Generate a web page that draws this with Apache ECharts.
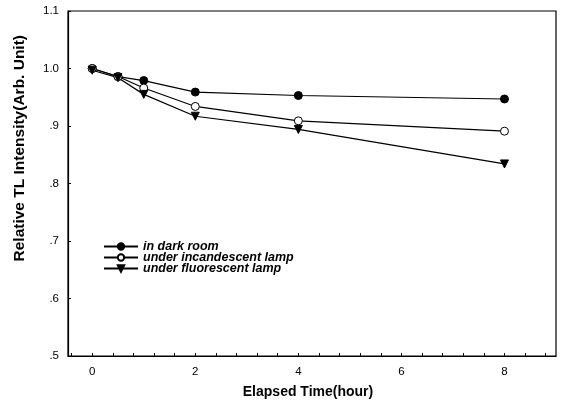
<!DOCTYPE html>
<html>
<head>
<meta charset="utf-8">
<script src="https://cdn.jsdelivr.net/npm/echarts@6/dist/echarts.min.js"></script>
<style>
html,body{margin:0;padding:0;background:#fff;}
#c{width:565px;height:415px;}
</style>
</head>
<body>
<div id="c"></div>
<script>
var hours = [0, 0.5, 1, 2, 4, 8];
var darkRoom = [1.0, 0.986, 0.979, 0.959, 0.953, 0.947];
var incandescent = [1.0, 0.986, 0.966, 0.934, 0.909, 0.891];
var fluorescent = [0.997, 0.984, 0.955, 0.917, 0.894, 0.834];
var seriesNames = ['in dark room', 'under incandescent lamp', 'under fluorescent lamp'];
var xTickLabels = [0, 2, 4, 6, 8];
var xMinorTicks = [-0.4, 0, 0.4, 0.8, 1.2, 1.6, 2, 2.4, 2.8, 3.2, 3.6, 4, 4.4, 4.8, 5.2, 5.6, 6, 6.4, 6.8, 7.2, 7.6, 8, 8.4, 8.8];
var yTickValues = [0.5, 0.6, 0.7, 0.8, 0.9, 1.0, 1.1];
var yTickLabels = ['.5', '.6', '.7', '.8', '.9', '1.0', '1.1'];

function pairs(ys) { return hours.map(function (h, i) { return [h, ys[i]]; }); }

var font = 'Liberation Sans, Arial, sans-serif';
var chart = echarts.init(document.getElementById('c'), null, {renderer: 'canvas'});
var common = {
  type: 'line', symbolSize: 8,
  lineStyle: {color: '#000', width: 1.2},
  itemStyle: {color: '#000', borderColor: '#000', borderWidth: 1},
  animation: false, z: 3
};
chart.setOption({
  animation: false,
  backgroundColor: '#fff',
  grid: {left: 68, right: 9, top: 11, bottom: 59, show: true, borderColor: '#000', borderWidth: 1.2, containLabel: false},
  legend: {
    left: 103, top: 240, orient: 'vertical', padding: 0, itemGap: -2, itemWidth: 34, itemHeight: 8,
    textStyle: {fontFamily: font, fontSize: 12.5, lineHeight: 11.5, fontWeight: 'bold', fontStyle: 'italic', color: '#000'},
    data: seriesNames
  },
  xAxis: {
    type: 'value', min: -0.47, max: 9.0,
    name: 'Elapsed Time(hour)', nameLocation: 'middle', nameGap: 29,
    nameTextStyle: {fontFamily: font, fontSize: 14, fontWeight: 'bold', color: '#000', padding: [0, 8, 0, 0]},
    axisLine: {show: true, onZero: false, lineStyle: {color: '#000', width: 1.2}},
    axisTick: {show: true, inside: true, length: 3, customValues: xMinorTicks, lineStyle: {color: '#000'}},
    axisLabel: {customValues: xTickLabels, fontFamily: font, fontSize: 11.5, color: '#000', margin: 10},
    splitLine: {show: false}
  },
  yAxis: {
    type: 'value', min: 0.5, max: 1.1,
    axisLine: {show: true, onZero: false, lineStyle: {color: '#000', width: 1.2}},
    axisTick: {show: true, inside: true, length: 3, customValues: yTickValues, lineStyle: {color: '#000'}},
    axisLabel: {
      customValues: yTickValues, fontFamily: font, fontSize: 11.5, color: '#000', margin: 9,
      formatter: function (v) {
        for (var i = 0; i < yTickValues.length; i++) if (Math.abs(yTickValues[i] - v) < 1e-6) return yTickLabels[i];
        return '';
      }
    },
    splitLine: {show: false}
  },
  graphic: [{
    type: 'text', left: 12, top: 35,
    rotation: Math.PI / 2,
    style: {text: 'Relative TL Intensity(Arb. Unit)', font: 'bold 15.5px Liberation Sans, Arial, sans-serif', fill: '#000'}
  }],
  series: [
    Object.assign({}, common, {name: seriesNames[0], symbol: 'circle', data: pairs(darkRoom)}),
    Object.assign({}, common, {name: seriesNames[1], symbol: 'circle', itemStyle: {color: '#fff', borderColor: '#000', borderWidth: 1}, data: pairs(incandescent)}),
    Object.assign({}, common, {name: seriesNames[2], symbol: 'triangle', symbolRotate: 180, data: pairs(fluorescent)})
  ]
});
</script>
</body>
</html>
